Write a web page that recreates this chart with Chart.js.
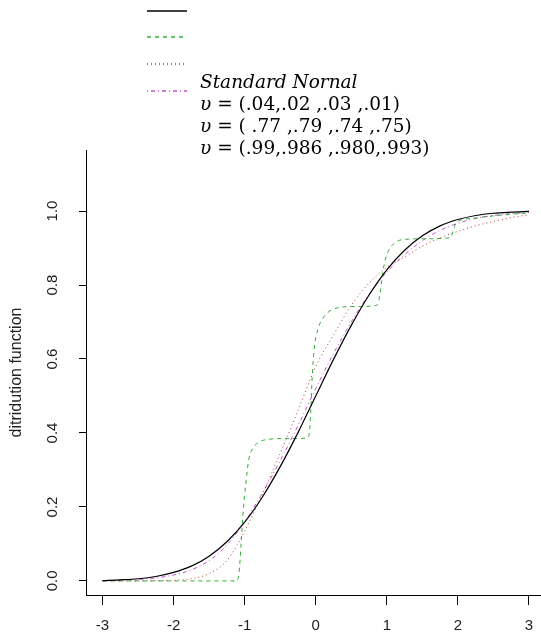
<!DOCTYPE html>
<html>
<head>
<meta charset="utf-8">
<script src="https://cdn.jsdelivr.net/npm/chart.js@4.4.1/dist/chart.umd.min.js"></script>
<style>
  html, body { margin: 0; padding: 0; background: #fff; }
  #wrap { width: 541px; height: 639px; }
</style>
</head>
<body>
<div id="wrap"><canvas id="cdf" width="541" height="639"></canvas></div>
<script>
// values
const xGrid = [-3, -2.75, -2.5, -2.25, -2, -1.75, -1.5, -1.25, -1, -0.75, -0.5, -0.25, 0,
  0.25, 0.5, 0.75, 1, 1.25, 1.5, 1.75, 2, 2.25, 2.5, 2.75, 3];
const standardNormal = [0.001, 0.003, 0.006, 0.012, 0.023, 0.040, 0.067, 0.106, 0.159, 0.227, 0.309, 0.401, 0.5,
  0.599, 0.691, 0.773, 0.841, 0.894, 0.933, 0.960, 0.977, 0.988, 0.994, 0.997, 0.999];
const magentaCurve = [0.001, 0.002, 0.004, 0.008, 0.016, 0.030, 0.055, 0.097, 0.160, 0.238, 0.325, 0.420, 0.52,
  0.615, 0.700, 0.775, 0.835, 0.882, 0.920, 0.948, 0.967, 0.980, 0.988, 0.993, 0.996];
const redCurve = [0.0, 0.0, 0.0, 0.001, 0.002, 0.006, 0.020, 0.055, 0.135, 0.235, 0.345, 0.460, 0.580,
  0.665, 0.745, 0.805, 0.848, 0.876, 0.905, 0.928, 0.945, 0.960, 0.972, 0.982, 0.990];
const greenX = [-3, -1.12, -1.08, -1.05, -1.02, -0.98, -0.94, -0.88, -0.80, -0.70, -0.40, -0.12, -0.09, -0.07,
  -0.05, -0.02, 0.03, 0.10, 0.20, 0.30, 0.60, 0.86, 0.90, 0.94, 0.98, 1.03, 1.10, 1.20, 1.50, 1.90, 1.93, 1.96,
  2.00, 2.20, 2.50, 2.80, 3.0];
const greenY = [0, 0, 0.02, 0.10, 0.19, 0.27, 0.33, 0.36, 0.375, 0.382, 0.385, 0.386, 0.40, 0.46,
  0.55, 0.63, 0.68, 0.71, 0.73, 0.738, 0.742, 0.745, 0.77, 0.83, 0.87, 0.895, 0.912, 0.922, 0.925, 0.928, 0.945, 0.962,
  0.972, 0.980, 0.987, 0.992, 0.995];

const xTicks = [-3, -2, -1, 0, 1, 2, 3];
const yTicks = [0, 0.2, 0.4, 0.6, 0.8, 1.0];
const yTitle = 'ditridution function';
const legendTitle = 'Standard Nornal';
const legendRows = ['(.04,.02 ,.03 ,.01)', '( .77 ,.79 ,.74 ,.75)', '(.99,.986 ,.980,.993)'];
const seriesColors = ['#000000', '#2fae35', '#b53a3a', '#c64fd0'];

const SANS = '"Liberation Sans", Arial, sans-serif';
const SERIF = '"DejaVu Serif", "Liberation Serif", serif';

const toPoints = (xs, ys) => xs.map((x, i) => ({ x, y: ys[i] }));

const rStylePlugin = {
  id: 'rStyle',
  afterDraw(chart) {
    const { ctx, scales: { y }, chartArea } = chart;
    ctx.save();
    ctx.fillStyle = '#222';
    ctx.textAlign = 'center';
    ctx.textBaseline = 'middle';

    // rotated y tick labels, like R's las=0
    ctx.font = '15px ' + SANS;
    yTicks.forEach((v) => {
      ctx.save();
      ctx.translate(53, y.getPixelForValue(v));
      ctx.rotate(-Math.PI / 2);
      ctx.fillText(v.toFixed(1), 0, 0);
      ctx.restore();
    });

    ctx.font = '16px ' + SANS;
    ctx.save();
    ctx.translate(17, (chartArea.top + chartArea.bottom) / 2);
    ctx.rotate(-Math.PI / 2);
    ctx.fillText(yTitle, 0, 0);
    ctx.restore();

    // legend: line samples on top, math-style text below
    const lineY = [11, 37, 64, 91];
    chart.data.datasets.forEach((ds, i) => {
      ctx.save();
      ctx.strokeStyle = seriesColors[i];
      ctx.lineWidth = 1.5;
      ctx.setLineDash(ds.borderDash || []);
      ctx.beginPath();
      ctx.moveTo(147, lineY[i]);
      ctx.lineTo(187, lineY[i]);
      ctx.stroke();
      ctx.restore();
    });

    ctx.fillStyle = '#000';
    ctx.textAlign = 'left';
    ctx.textBaseline = 'alphabetic';
    ctx.font = 'italic 18.5px ' + SERIF;
    ctx.fillText(legendTitle, 200, 88);
    legendRows.forEach((row, i) => {
      const by = 88 + 22 * (i + 1);
      ctx.font = 'italic 18.5px ' + SERIF;
      ctx.fillText('\u03C5', 200, by);
      const w = ctx.measureText('\u03C5').width;
      ctx.font = '18.5px ' + SERIF;
      ctx.fillText(' = ' + row, 200 + w, by);
    });
    ctx.restore();
  }
};

const ctx = document.getElementById('cdf');
new Chart(ctx, {
  type: 'scatter',
  data: {
    datasets: [
      { label: 'Standard Nornal', data: toPoints(xGrid, standardNormal), borderColor: seriesColors[0], borderWidth: 1.2 },
      { label: 'v1', data: toPoints(greenX, greenY), borderColor: seriesColors[1], borderWidth: 1, borderDash: [4, 4] },
      { label: 'v2', data: toPoints(xGrid, redCurve), borderColor: seriesColors[2], borderWidth: 1, borderDash: [1, 3] },
      { label: 'v3', data: toPoints(xGrid, magentaCurve), borderColor: seriesColors[3], borderWidth: 1, borderDash: [1, 3, 4, 3] }
    ]
  },
  options: {
    responsive: false,
    animation: false,
    showLine: true,
    elements: {
      point: { radius: 0, hoverRadius: 0 },
      line: { cubicInterpolationMode: 'monotone', fill: false }
    },
    layout: { padding: { top: 150, left: 0, right: 0, bottom: 0 } },
    plugins: {
      legend: { display: false },
      tooltip: { enabled: false }
    },
    scales: {
      x: {
        type: 'linear',
        min: -3.232,
        max: 3.169,
        afterBuildTicks: (s) => { s.ticks = xTicks.map((v) => ({ value: v })); },
        afterFit: (s) => { s.height = 44; s.paddingLeft = 0; s.paddingRight = 0; },
        grid: { display: true, drawOnChartArea: false, drawTicks: true, tickLength: 10, color: '#000' },
        border: { display: true, color: '#000', width: 1 },
        ticks: {
          color: '#222',
          font: { family: SANS, size: 15 },
          padding: 12,
          maxRotation: 0,
          minRotation: 0,
          callback: (v) => String(v)
        }
      },
      y: {
        type: 'linear',
        min: -0.038,
        max: 1.165,
        afterBuildTicks: (s) => { s.ticks = yTicks.map((v) => ({ value: v })); },
        afterFit: (s) => { s.width = 86; },
        grid: { display: true, drawOnChartArea: false, drawTicks: true, tickLength: 7, color: '#000' },
        border: { display: true, color: '#000', width: 1 },
        ticks: { display: false }
      }
    }
  },
  plugins: [rStylePlugin]
});
</script>
</body>
</html>
